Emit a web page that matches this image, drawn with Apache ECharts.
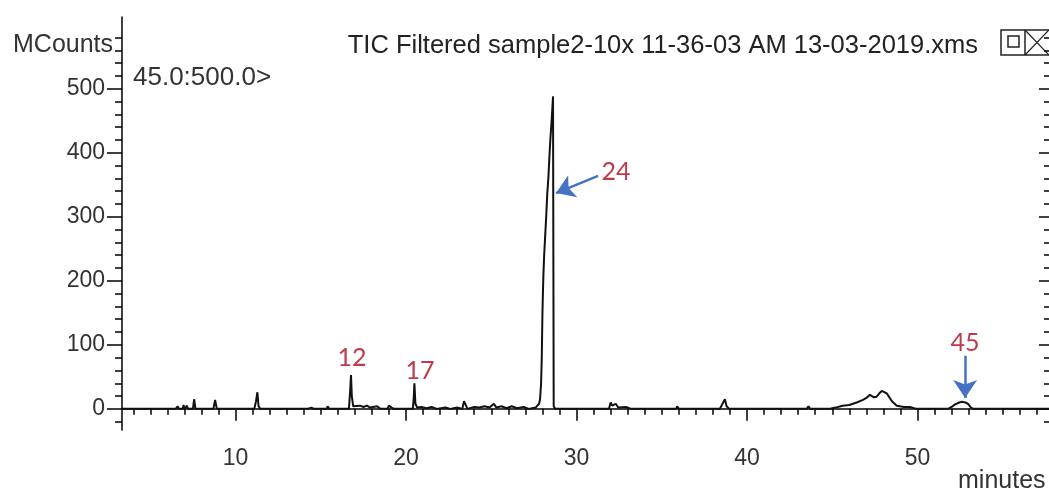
<!DOCTYPE html>
<html>
<head>
<meta charset="utf-8">
<script src="https://cdn.jsdelivr.net/npm/echarts@6/dist/echarts.min.js"></script>
<style>
  html, body { margin: 0; padding: 0; background: #fff; }
  #chart { width: 1049px; height: 489px; }
</style>
</head>
<body>
<div id="chart"></div>
<script>
// retention time (minutes) and intensity (MCounts)
const times = [
    3.34, 6.5, 6.6, 6.68, 6.9, 6.95, 7.0, 7.1, 7.15, 7.2, 7.5, 7.57, 7.65,
    8.7, 8.8, 8.9, 9.45, 9.5, 9.55, 11.1, 11.2, 11.28, 11.35, 11.45,
    12.5, 12.6, 12.7, 13.45, 13.5, 13.6, 14.05, 14.1, 14.2, 14.45, 14.5, 14.6,
    14.85, 14.9, 15.0, 15.35, 15.4, 15.5, 15.65, 15.7, 15.8,
    16.65, 16.72, 16.77, 16.82, 16.9, 17.0, 17.3, 17.5, 17.7, 17.9, 18.3, 18.5,
    18.9, 19.0, 19.15, 19.3, 20.4, 20.45, 20.49, 20.55, 20.65, 20.9, 21.2, 21.5, 21.8,
    22.3, 22.6, 23.0, 23.3, 23.4, 23.6, 24.0, 24.3, 24.6, 24.9, 25.15, 25.3,
    25.6, 25.9, 26.2, 26.5, 26.9, 27.2, 27.6, 27.8, 27.86, 27.92, 27.96,
    28.0, 28.05, 28.1, 28.15, 28.22, 28.28, 28.35, 28.42, 28.47, 28.55, 28.62,
    28.66, 28.75, 29.3, 29.4, 29.5, 30.2, 30.3, 30.4, 31.1, 31.2, 31.3,
    31.9, 32.0, 32.1, 32.3, 32.45, 32.9, 33.2, 35.85, 35.9, 36.0,
    38.4, 38.5, 38.7, 38.8, 38.95, 41.65, 41.7, 41.8, 43.5, 43.6, 43.7,
    44.8, 45.2, 45.6, 46.0, 46.43, 46.8, 47.0, 47.2, 47.3, 47.45, 47.6, 47.75,
    47.9, 48.05, 48.2, 48.35, 48.5, 48.78, 49.2, 49.56, 49.8, 50.0,
    51.8, 52.0, 52.2, 52.45, 52.6, 52.8, 52.95, 53.1, 53.25, 57.71
];
const counts = [
    0, 0, 4, 0, 0, 6, 0, 0, 5, 0, 0, 15, 0,
    0, 14, 0, 0, 3, 0, 0, 12, 26, 4, 0,
    0, 3, 0, 0, 3, 0, 0, 3, 0, 2, 4, 0,
    0, 3, 0, 0, 4, 0, 0, 3, 0,
    0, 27, 53, 20, 4, 2, 5, 3, 5, 2, 4, 0,
    0, 5, 2, 0, 0, 17, 40, 8, 2, 3, 1, 3, 0,
    2, 0, 2, 0, 12, 0, 3, 2, 4, 2, 8, 2,
    4, 1, 4, 1, 3, 0, 2, 8, 15, 40, 80,
    150, 205, 240, 265, 300, 335, 362, 400, 423, 455, 488,
    4, 0, 0, 3, 0, 0, 3, 0, 0, 3, 0,
    0, 10, 5, 8, 2, 3, 0, 0, 4, 0,
    0, 5, 15, 4, 0, 0, 3, 0, 0, 4, 0,
    0, 2, 5, 6, 10, 14, 17, 22, 25, 18, 19, 24,
    28, 26, 24, 18, 12, 5, 3, 3, 1, 0,
    0, 3, 7, 10, 11, 10, 8, 3, 0, 0
];

// axis ticks
const xMajor = [10, 20, 30, 40, 50];
const xMinor = [];
for (let m = 4; m <= 57; m++) if (m % 10 !== 0) xMinor.push(m);
const yMajor = [0, 100, 200, 300, 400, 500];
const yMinor = [];
for (let v = -20; v <= 600; v += 20) if (v % 100 !== 0) yMinor.push(v);

// peak annotations: [label, time, level]
const peakLabels = [
    ['12', 16.83, 80],
    ['17', 20.82, 59],
    ['24', 32.32, 370],
    ['45', 52.79, 103]
];
// arrows: [fromTime, fromLevel, toTime, toLevel]
const arrows = [
    [31.26, 364, 28.8, 337],
    [52.79, 83, 52.79, 17]
];

const X_MIN = 3.34, X_MAX = 57.71, Y_MIN = -33, Y_MAX = 612;
const FONT = 'Liberation Sans, Arial, sans-serif';

const chart = echarts.init(document.getElementById('chart'));

function xAxisDef(ticks, len, labels) {
    return {
        type: 'value', min: X_MIN, max: X_MAX, position: 'bottom',
        axisLine: {show: labels, lineStyle: {color: '#000', width: 1.5}},
        splitLine: {show: false},
        axisTick: {show: true, customValues: ticks, length: len, lineStyle: {color: '#000', width: 1.5}},
        axisLabel: labels
            ? {show: true, customValues: ticks, color: '#333', fontSize: 23, fontFamily: FONT, margin: 17}
            : {show: false}
    };
}

function yAxisDef(pos, ticks, len, inside, labels, line) {
    return {
        type: 'value', min: Y_MIN, max: Y_MAX, position: pos,
        axisLine: {show: line, lineStyle: {color: '#000', width: 1.5}},
        splitLine: {show: false},
        axisTick: {show: true, inside: inside, customValues: ticks, length: len, lineStyle: {color: '#000', width: 1.5}},
        axisLabel: labels
            ? {show: true, customValues: ticks, color: '#333', fontSize: 23, fontFamily: FONT, margin: 17}
            : {show: false}
    };
}

const option = {
    animation: false,
    backgroundColor: '#fff',
    title: [
        {text: 'MCounts', left: 8, top: 28, textStyle: {fontSize: 25, fontWeight: 'normal', color: '#333', fontFamily: FONT}},
        {text: '45.0:500.0>', left: 128, top: 60, textStyle: {fontSize: 26, fontWeight: 'normal', color: '#333', fontFamily: FONT}},
        {text: 'TIC Filtered sample2-10x 11-36-03 AM 13-03-2019.xms', right: 66, top: 28, textStyle: {fontSize: 25.5, fontWeight: 'normal', color: '#222', fontFamily: FONT}},
        {text: 'minutes', left: 953, top: 464, textStyle: {fontSize: 25, fontWeight: 'normal', color: '#333', fontFamily: FONT}}
    ],
    grid: {left: 122, right: 0, top: 17, bottom: 59, containLabel: false},
    xAxis: [
        xAxisDef(xMajor, 12, true),
        xAxisDef(xMinor, 6, false)
    ],
    yAxis: [
        yAxisDef('left', yMajor, 15, false, true, true),
        yAxisDef('left', yMinor, 7, false, false, false),
        yAxisDef('right', yMajor, 10, true, false, false),
        yAxisDef('right', yMinor, 5, true, false, false)
    ],
    series: [
        {
            name: 'TIC',
            type: 'line',
            xAxisIndex: 0,
            yAxisIndex: 0,
            data: times.map((t, i) => [t, counts[i]]),
            symbol: 'none',
            lineStyle: {color: '#111', width: 2},
            markPoint: {
                symbol: 'circle',
                symbolSize: 1,
                itemStyle: {color: 'rgba(0,0,0,0)'},
                label: {show: true, position: 'inside', color: '#c0394b', fontSize: 25, fontFamily: 'Lato, sans-serif', formatter: p => p.name},
                data: peakLabels.map(p => ({name: p[0], coord: [p[1], p[2]]}))
            },
            markLine: {
                silent: true,
                symbol: ['none', 'arrow'],
                symbolSize: 18,
                label: {show: false},
                itemStyle: {color: '#4472c4'},
                lineStyle: {color: '#4472c4', width: 2.5, type: 'solid'},
                data: arrows.map(a => [{coord: [a[0], a[1]]}, {coord: [a[2], a[3]]}])
            }
        }
    ],
    graphic: [
        {type: 'rect', shape: {x: 1001, y: 30, width: 50, height: 25}, style: {fill: 'none', stroke: '#222', lineWidth: 1.5}},
        {type: 'rect', shape: {x: 1008, y: 36, width: 11, height: 11}, style: {fill: 'none', stroke: '#222', lineWidth: 1.5}},
        {type: 'line', shape: {x1: 1025, y1: 30, x2: 1025, y2: 55}, style: {stroke: '#222', lineWidth: 1.5}},
        {type: 'line', shape: {x1: 1025, y1: 30, x2: 1049, y2: 55}, style: {stroke: '#222', lineWidth: 1.2}},
        {type: 'line', shape: {x1: 1049, y1: 30, x2: 1025, y2: 55}, style: {stroke: '#222', lineWidth: 1.2}}
    ]
};

chart.setOption(option);

window.addEventListener('resize', function () {
    chart.resize();
});
</script>
</body>
</html>
